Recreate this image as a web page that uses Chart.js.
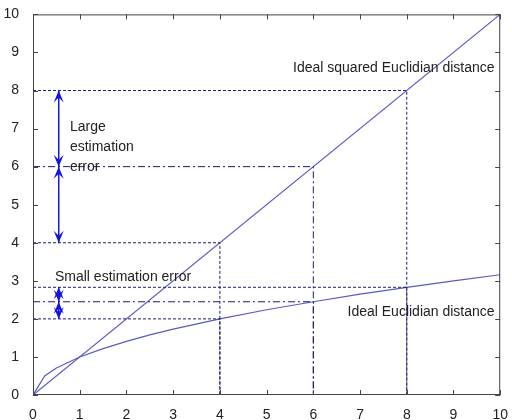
<!DOCTYPE html>
<html>
<head>
<meta charset="utf-8">
<script src="https://cdn.jsdelivr.net/npm/chart.js@4.4.1/dist/chart.umd.min.js"></script>
<style>
  html, body { margin: 0; padding: 0; background: #fff; }
  canvas { display: block; }
</style>
</head>
<body>
<canvas id="chart" width="512" height="420"></canvas>
<script>
// values
const squaredX = [0, 10];
const squaredY = [0, 10];
const euclidX = [0, 0.25, 0.5, 1, 1.5, 2, 2.5, 3, 4, 5, 6, 7, 8, 9, 10];
const euclidY = [0, 0.5, 0.71, 1, 1.22, 1.41, 1.58, 1.73, 2, 2.24, 2.45, 2.65, 2.83, 3, 3.16];
const guideX = [4, 6, 8];
const guideSquared = [4, 6, 8];
const guideEuclid = [2, 2.45, 2.83];
const arrowX = 0.55;
const tickValues = [0, 1, 2, 3, 4, 5, 6, 7, 8, 9, 10];

const MAIN = '#5a5ac4';
const GUIDE = '#1c1c70';
const ARROW = '#1414e0';
const FONT = '"Liberation Sans", Arial, sans-serif';

const pts = (xs, ys) => xs.map((x, i) => ({ x, y: ys[i] }));

const datasets = [];
guideX.forEach((gx, i) => {
  const dash = i === 1 ? [7, 3, 2, 3] : [3, 2];
  [guideSquared[i], guideEuclid[i]].forEach(gy => {
    datasets.push({
      data: [{ x: 0, y: gy }, { x: gx, y: gy }, { x: gx, y: 0 }],
      borderColor: GUIDE, borderWidth: 1, borderDash: dash,
      pointRadius: 0, showLine: true, tension: 0
    });
  });
});
datasets.push({
  data: pts(squaredX, squaredY),
  borderColor: MAIN, borderWidth: 1.2, pointRadius: 0, showLine: true
});
datasets.push({
  data: pts(euclidX, euclidY),
  borderColor: MAIN, borderWidth: 1.2, pointRadius: 0, showLine: true
});
// vertical arrow shafts
datasets.push({
  data: [{ x: arrowX, y: guideSquared[2] }, { x: arrowX, y: guideSquared[0] }],
  borderColor: ARROW, borderWidth: 1, pointRadius: 0, showLine: true
});
datasets.push({
  data: [{ x: arrowX, y: guideEuclid[2] }, { x: arrowX, y: guideEuclid[0] }],
  borderColor: ARROW, borderWidth: 1, pointRadius: 0, showLine: true
});

const labels = [
  { text: 'Ideal squared Euclidian distance', x: 9.88, y: 8.58, align: 'right' },
  { text: 'Ideal Euclidian distance', x: 9.88, y: 2.18, align: 'right' },
  { text: 'Small estimation error', x: 0.47, y: 3.1, align: 'left' },
  { text: 'Large', x: 0.79, y: 7.03, align: 'left' },
  { text: 'estimation', x: 0.79, y: 6.5, align: 'left' },
  { text: 'error', x: 0.79, y: 5.98, align: 'left' }
];

function arrowHead(ctx, x, y, dir) {
  // dir: -1 points up, 1 points down
  const len = 12, half = 5, notch = 7;
  ctx.beginPath();
  ctx.moveTo(x, y);
  ctx.lineTo(x - half, y - dir * len);
  ctx.lineTo(x, y - dir * notch);
  ctx.lineTo(x + half, y - dir * len);
  ctx.closePath();
  ctx.fill();
}

const decor = {
  id: 'decor',
  afterDatasetsDraw(chart) {
    const { ctx, chartArea: a, scales: { x, y } } = chart;
    ctx.save();
    // box and inward ticks
    ctx.strokeStyle = '#444';
    ctx.lineWidth = 1;
    ctx.strokeRect(a.left + 0.5, a.top + 0.5, a.right - a.left - 1, a.bottom - a.top - 1);
    ctx.beginPath();
    tickValues.forEach(v => {
      const px = Math.round(x.getPixelForValue(v)) + 0.5;
      const py = Math.round(y.getPixelForValue(v)) + 0.5;
      ctx.moveTo(px, a.bottom); ctx.lineTo(px, a.bottom - 5);
      ctx.moveTo(px, a.top); ctx.lineTo(px, a.top + 5);
      ctx.moveTo(a.left, py); ctx.lineTo(a.left + 5, py);
      ctx.moveTo(a.right, py); ctx.lineTo(a.right - 5, py);
    });
    ctx.stroke();
    // arrow heads
    ctx.fillStyle = ARROW;
    const ax = x.getPixelForValue(arrowX);
    [guideSquared, guideEuclid].forEach(g => {
      arrowHead(ctx, ax, y.getPixelForValue(g[2]), -1);
      arrowHead(ctx, ax, y.getPixelForValue(g[1]), 1);
      arrowHead(ctx, ax, y.getPixelForValue(g[1]), -1);
      arrowHead(ctx, ax, y.getPixelForValue(g[0]), 1);
    });
    // text labels
    ctx.fillStyle = '#222';
    ctx.font = '14px ' + FONT;
    ctx.textBaseline = 'middle';
    labels.forEach(l => {
      ctx.textAlign = l.align;
      ctx.fillText(l.text, x.getPixelForValue(l.x), y.getPixelForValue(l.y));
    });
    ctx.restore();
  }
};

new Chart(document.getElementById('chart'), {
  type: 'scatter',
  data: { datasets },
  plugins: [decor],
  options: {
    responsive: false,
    animation: false,
    layout: { padding: { top: 14, right: 9, left: 0, bottom: 0 } },
    plugins: { legend: { display: false }, tooltip: { enabled: false } },
    scales: {
      x: {
        type: 'linear', min: 0, max: 10,
        afterFit: s => { s.height = 25; },
        afterBuildTicks: s => { s.ticks = tickValues.map(v => ({ value: v })); },
        grid: { display: false },
        border: { display: false },
        ticks: { color: '#222', padding: 4, font: { family: FONT, size: 14 } }
      },
      y: {
        type: 'linear', min: 0, max: 10,
        afterFit: s => { s.width = 33; },
        afterBuildTicks: s => { s.ticks = tickValues.map(v => ({ value: v })); },
        grid: { display: false },
        border: { display: false },
        ticks: { color: '#222', padding: 6, font: { family: FONT, size: 14 } }
      }
    }
  }
});
</script>
</body>
</html>
